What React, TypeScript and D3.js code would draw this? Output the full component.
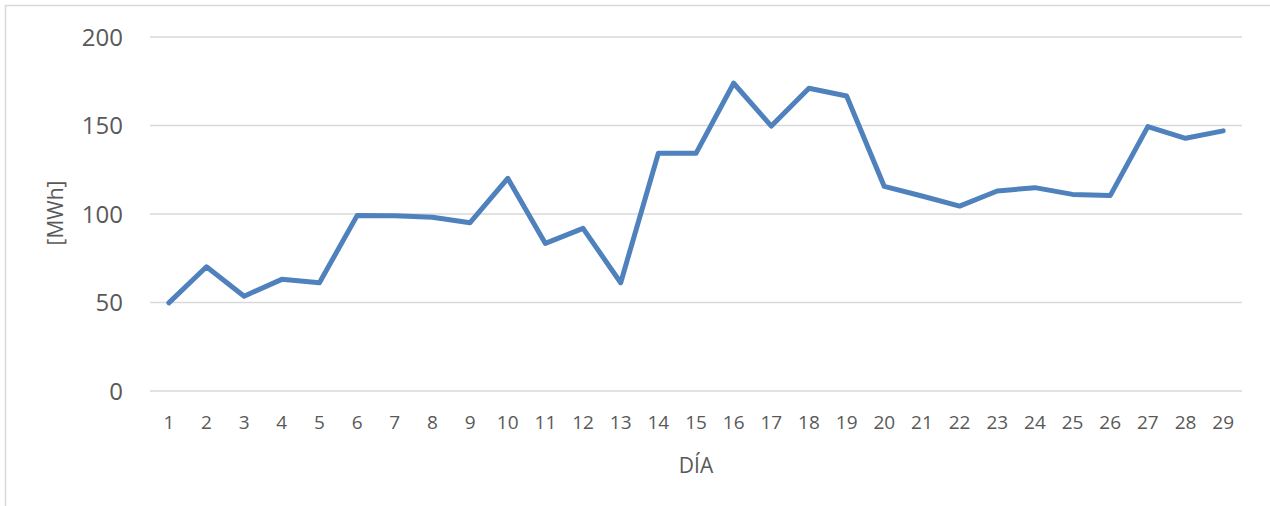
import React, { useEffect, useRef } from "react";
import { select, scaleBand, scaleLinear, line, axisBottom, axisLeft } from "d3";

const days = Array.from({ length: 29 }, (_, i) => String(i + 1));
const energy = [
  49.5, 69.9, 53.3, 62.8, 60.9, 98.8, 98.7, 97.9, 94.8, 119.9,
  83.1, 91.6, 60.9, 134, 134, 173.6, 149.4, 170.8, 166.4, 115.3,
  109.9, 104.2, 112.7, 114.6, 110.8, 110.1, 149.1, 142.5, 146.7,
];
const yTicks = [0, 50, 100, 150, 200];

const W = 1270;
const H = 506;
const FONT = "'Open Sans', sans-serif";
const TEXT = "#595959";

function App() {
  const svgRef = useRef<SVGSVGElement>(null);

  useEffect(() => {
    const svg = select(svgRef.current);
    svg.selectAll("*").remove();

    const x = scaleBand<string>().domain(days).range([150, 1242]);
    const y = scaleLinear().domain([0, 200]).range([390.5, 36.5]);

    // outer chart border (runs off the right/bottom edge)
    svg
      .append("rect")
      .attr("x", 5.5)
      .attr("y", 5.5)
      .attr("width", W + 20)
      .attr("height", H + 20)
      .attr("fill", "white")
      .attr("stroke", "#d9d9d9")
      .attr("stroke-width", 1.5);

    // gridlines + y labels
    const yAxis = svg
      .append("g")
      .attr("transform", "translate(150,0)")
      .call(
        axisLeft(y)
          .tickValues(yTicks)
          .tickSize(-(1242 - 150))
          .tickPadding(27)
      );
    yAxis.select(".domain").remove();
    yAxis.selectAll(".tick line").attr("stroke", "#d9d9d9").attr("stroke-width", 1.5);
    yAxis
      .selectAll(".tick text")
      .attr("fill", TEXT)
      .attr("font-family", FONT)
      .attr("font-size", 24)
      .attr("dy", "0.36em");

    // x labels
    const xAxis = svg
      .append("g")
      .attr("transform", "translate(0,390.5)")
      .call(axisBottom(x).tickSize(0).tickPadding(32));
    xAxis.select(".domain").remove();
    xAxis
      .selectAll(".tick text")
      .attr("fill", TEXT)
      .attr("font-family", FONT)
      .attr("font-size", 19)
      .attr("dy", "0.36em");

    // series
    const path = line<number>()
      .x((_, i) => (x(days[i]) as number) + x.bandwidth() / 2)
      .y(d => y(d));

    svg
      .append("path")
      .datum(energy)
      .attr("d", path)
      .attr("fill", "none")
      .attr("stroke", "#4f81bd")
      .attr("stroke-width", 5)
      .attr("stroke-linejoin", "round")
      .attr("stroke-linecap", "round");

    // axis titles
    svg
      .append("text")
      .attr("transform", "translate(56,213) rotate(-90)")
      .attr("text-anchor", "middle")
      .attr("dy", "0.35em")
      .attr("fill", TEXT)
      .attr("font-family", FONT)
      .attr("font-size", 21)
      .text("[MWh]");

    svg
      .append("text")
      .attr("x", 696)
      .attr("y", 473)
      .attr("text-anchor", "middle")
      .attr("fill", TEXT)
      .attr("font-family", FONT)
      .attr("font-size", 21)
      .text("DÍA");
  }, []);

  return (
    <svg
      ref={svgRef}
      width={W}
      height={H}
      style={{ position: "absolute", left: 0, top: 0, background: "white" }}
    />
  );
}

export default App;
